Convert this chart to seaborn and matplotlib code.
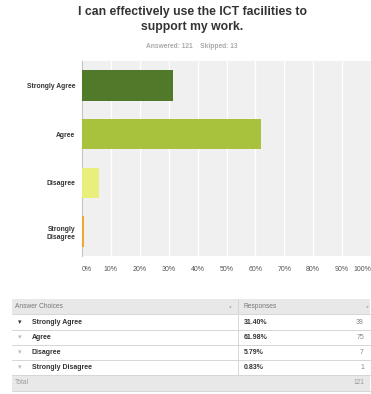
import matplotlib
matplotlib.use("Agg")
import matplotlib.pyplot as plt
import matplotlib.patches as mpatches
import seaborn as sns
import pandas as pd

# Survey results
choices = ["Strongly Agree", "Agree", "Disagree", "Strongly Disagree"]
axis_labels = ["Strongly Agree", "Agree", "Disagree", "Strongly\nDisagree"]
percent = [31.40, 61.98, 5.79, 0.83]
counts = [38, 75, 7, 1]
total = 121
skipped = 13
xticks = [0, 10, 20, 30, 40, 50, 60, 70, 80, 90, 100]
colors = ["#507a2a", "#a8c23e", "#e8ef7c", "#f0a630"]

sns.set_theme(style="white")
plt.rcParams["font.family"] = ["Liberation Sans", "DejaVu Sans"]

W, H = 371, 394
fig = plt.figure(figsize=(W / 100, H / 100), dpi=100)

def fx(px):
    return px / W

def fy(py):
    return 1 - py / H

ax = fig.add_axes([fx(82), fy(256), 289 / W, 195 / H])
ax.set_facecolor("#eff0ef")

df = pd.DataFrame({"choice": axis_labels, "pct": percent})
sns.barplot(data=df, x="pct", y="choice", hue="choice", palette=colors,
            order=axis_labels, hue_order=axis_labels, legend=False,
            width=0.63, saturation=1, ax=ax, zorder=3)
for p in ax.patches:
    p.set_edgecolor("none")

ax.set_xlim(0, 100)
ax.set_ylim(3.5, -0.5)
ax.set_xticks(xticks)
ax.set_xticklabels([f"{t}%" for t in xticks], color="#555555", fontsize=5)
xt = ax.get_xticklabels()
xt[0].set_horizontalalignment("left")
xt[-1].set_horizontalalignment("right")
ax.tick_params(axis="x", length=0, pad=7)
ax.tick_params(axis="y", length=0, pad=5)
for lbl in ax.get_yticklabels():
    lbl.set_fontsize(4.9)
    lbl.set_fontweight("bold")
    lbl.set_color("#333333")
    lbl.set_horizontalalignment("right")
ax.grid(axis="x", color="white", linewidth=1, zorder=0)
ax.set_axisbelow(True)
for side in ["top", "right", "bottom"]:
    ax.spines[side].set_visible(False)
ax.spines["left"].set_color("#c4c4c4")
ax.spines["left"].set_linewidth(0.8)
ax.set_xlabel("")
ax.set_ylabel("")

# Title block
fig.text(fx(192), fy(12), "I can effectively use the ICT facilities to",
         ha="center", va="center", fontsize=8.8, fontweight="bold", color="#333333")
fig.text(fx(192), fy(27), "support my work.",
         ha="center", va="center", fontsize=8.8, fontweight="bold", color="#333333")
fig.text(fx(192), fy(46), f"Answered: {total}    Skipped: {skipped}",
         ha="center", va="center", fontsize=4.8, fontweight="bold", color="#aaaaaa")

# Response table
left, right, divx = 12, 370, 238
row_edges = [299, 314, 330, 345, 360, 375, 391]
grey = "#e8e8e8"
line = "#d6d6d6"

def rect(y0, y1, color):
    fig.patches.append(mpatches.Rectangle((fx(left), fy(y1)), fx(right) - fx(left),
                                          fy(y0) - fy(y1), transform=fig.transFigure,
                                          facecolor=color, edgecolor="none", zorder=0))

rect(row_edges[0], row_edges[1], grey)
rect(row_edges[-2], row_edges[-1], grey)
for y in row_edges[1:]:
    fig.lines.append(plt.Line2D([fx(left), fx(right)], [fy(y), fy(y)],
                                transform=fig.transFigure, color=line, linewidth=0.7))
fig.lines.append(plt.Line2D([fx(divx), fx(divx)], [fy(row_edges[0]), fy(row_edges[-2])],
                            transform=fig.transFigure, color=line, linewidth=0.7))

def mid(i):
    return fy((row_edges[i] + row_edges[i + 1]) / 2)

fig.text(fx(15), mid(0), "Answer Choices", ha="left", va="center", fontsize=4.8, color="#777777")
fig.text(fx(244), mid(0), "Responses", ha="left", va="center", fontsize=4.8, color="#777777")
fig.text(fx(230), mid(0), "\u25be", ha="center", va="center", fontsize=4, color="#bbbbbb",
         family=["DejaVu Sans"])
fig.text(fx(367), mid(0), "\u25be", ha="center", va="center", fontsize=4, color="#bbbbbb",
         family=["DejaVu Sans"])

for i, (c, p, n) in enumerate(zip(choices, percent, counts)):
    y = mid(i + 1)
    fig.text(fx(20), y, "\u25be", ha="center", va="center", fontsize=5,
             color="#333333" if i == 0 else "#bbbbbb", family=["DejaVu Sans"])
    fig.text(fx(32), y, c, ha="left", va="center", fontsize=5, fontweight="bold", color="#333333")
    fig.text(fx(244), y, f"{p:.2f}%", ha="left", va="center", fontsize=5,
             fontweight="bold", color="#333333")
    fig.text(fx(364), y, str(n), ha="right", va="center", fontsize=5, color="#888888")

fig.text(fx(15), mid(5), "Total", ha="left", va="center", fontsize=4.8, color="#999999")
fig.text(fx(364), mid(5), str(total), ha="right", va="center", fontsize=4.8, color="#999999")

fig.savefig("out.png", dpi=100)
